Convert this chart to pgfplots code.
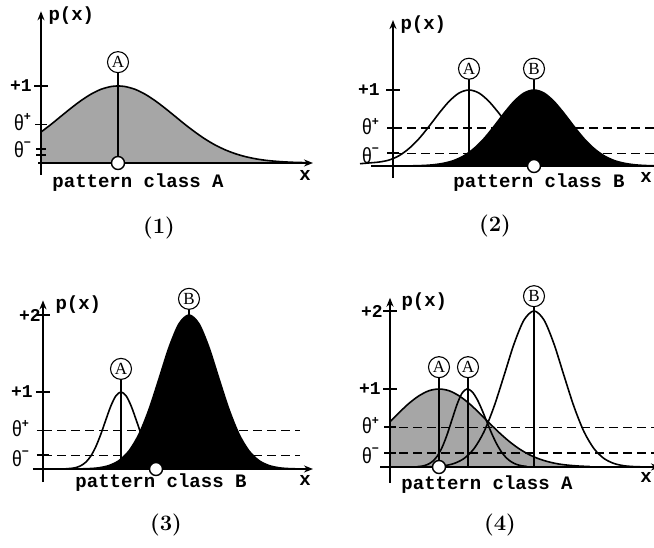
\documentclass[border=0pt]{standalone}
\usepackage{fontspec}
\usepackage{graphicx}
\usepackage{pgfplots}
\pgfplotsset{compat=1.18}
\usetikzlibrary{arrows.meta}
\newfontfamily\mono{Liberation Mono}
\newfontfamily\tms{Liberation Serif}
\newfontfamily\hel{Liberation Sans}
\definecolor{stip}{gray}{0.65}
\newcommand{\thp}{\scalebox{0.8}[1]{θ}\raisebox{0.42em}{\fontsize{12}{12}\selectfont\bfseries +}}
\newcommand{\thm}{\scalebox{0.8}[1]{θ}\raisebox{0.5em}{\fontsize{12}{12}\selectfont\bfseries −}}
\tikzset{
  crv/.style  = {line width=1.6pt, black, smooth},
  axl/.style  = {line width=1.6pt},
  arr/.style  = {line width=1.6pt, -{Stealth[length=9pt,width=7pt]}},
  dsh/.style  = {line width=1.1pt, dash pattern=on 9pt off 5pt},
  stem/.style = {line width=1.3pt},
  circ/.style = {circle, draw, line width=1.1pt, fill=white, inner sep=0pt,
                 minimum size=21pt, font=\tms\fontsize{17}{17}\selectfont},
  lbl/.style  = {font=\mono\bfseries\fontsize{19}{20}\selectfont},
  num/.style  = {font=\mono\bfseries\fontsize{18}{18}\selectfont, anchor=east, inner sep=0pt},
  th/.style   = {font=\hel\fontsize{22}{22}\selectfont, anchor=east, inner sep=0pt},
  capt/.style = {font=\bfseries\fontsize{22}{26}\selectfont},
}
\pgfplotsset{
  panel/.style = {hide axis, clip=false, anchor=origin, x=1pt,
                  xmin=-20, xmax=270, ymin=-0.2, ymax=2.2},
  cls/.style   = {only marks, mark=*, mark size=6.5pt,
                  mark options={fill=white, draw=black, line width=1.4pt}},
}
\begin{document}
\begin{tikzpicture}
\useasboundingbox (0,0) rectangle (654pt,548pt);

% ---------- (1) ----------
\begin{axis}[panel, at={(41pt,385pt)}, y=77pt]
\addplot[crv, fill=stip] coordinates {
  (0,0.402) (10,0.501) (20,0.607) (30,0.712) (40,0.810) (50,0.894) (60,0.957)
  (70,0.993) (77,1) (84,0.993) (94,0.957) (104,0.894) (114,0.810) (124,0.712)
  (134,0.607) (144,0.501) (154,0.402) (164,0.312) (174,0.235) (184,0.172)
  (194,0.122) (204,0.084) (214,0.056) (224,0.036) (234,0.023) (244,0.014)
  (254,0.008) (264,0.005)} \closedcycle;
\addplot[stem] coordinates {(77,0) (77,1.31)};
\draw[arr] (0,-0.15) -- (0,1.97);
\draw[arr] (-3,0) -- (272,0);
\draw[axl] (-7,1) -- (7,1);
\draw[axl] (-6,0.5) -- (6,0.5);
\draw[axl] (-5,0.18) -- (5,0.18);
\draw[axl] (-5,0.10) -- (5,0.10);
\node[circ] at (77,1.31) {A};
\addplot[cls] coordinates {(77,0)};
\node[num] at (-9,1) {+1};
\node[th] at (-10,0.53) {\thp};
\node[th] at (-10,0.17) {\thm};
\node[lbl, anchor=west] at (4,1.92) {p(x)};
\node[lbl] at (264,-0.16) {x};
\node[lbl] at (97,-0.26) {pattern class A};
\end{axis}

% ---------- (2) ----------
\begin{axis}[panel, at={(393pt,382pt)}, y=76pt]
\addplot[crv] coordinates {
  (-33,0.03) (-24,0.04) (-14,0.052) (-4,0.078) (6,0.135) (16,0.230) (26,0.360)
  (36,0.521) (46,0.693) (56,0.849) (66,0.960) (76,1) (86,0.960) (96,0.849)
  (106,0.693) (116,0.521) (126,0.360) (136,0.230) (146,0.135) (156,0.073)
  (166,0.037) (176,0.017) (186,0.007)};
\addplot[stem] coordinates {(76,0) (76,1.28)};
\draw[dsh] (0,0.5) -- (265,0.5);
\draw[dsh] (0,0.17) -- (265,0.17);
\addplot[crv, fill=black] coordinates {
  (21,0.003) (31,0.007) (41,0.017) (51,0.037) (61,0.073) (71,0.135) (81,0.230)
  (91,0.360) (101,0.521) (111,0.693) (121,0.849) (131,0.960) (141,1)
  (151,0.960) (161,0.849) (171,0.693) (181,0.521) (191,0.360) (201,0.230)
  (211,0.135) (221,0.073) (231,0.037) (241,0.017) (251,0.007) (261,0.003)} \closedcycle;
\addplot[stem] coordinates {(141,1) (141,1.28)};
\draw[arr] (0,-0.16) -- (0,1.92);
\draw[arr] (-22,0) -- (270,0);
\draw[axl] (-7,1) -- (7,1);
\draw[axl] (-6,0.5) -- (6,0.5);
\draw[axl] (-6,0.17) -- (6,0.17);
\node[circ] at (76,1.28) {A};
\node[circ] at (141,1.28) {B};
\addplot[cls] coordinates {(141,0)};
\node[num] at (-13,1) {+1};
\node[th] at (-14,0.52) {\thp};
\node[th] at (-14,0.13) {\thm};
\node[lbl, anchor=west] at (4,1.86) {p(x)};
\node[lbl] at (253,-0.15) {x};
\node[lbl] at (146,-0.22) {pattern class B};
\end{axis}

% ---------- (3) ----------
\begin{axis}[panel, at={(43pt,79pt)}, y=77pt]
\addplot[crv] coordinates {
  (23,0.003) (28,0.008) (33,0.019) (38,0.044) (43,0.091) (48,0.172) (53,0.295)
  (58,0.458) (63,0.644) (68,0.823) (73,0.952) (78,1) (83,0.952) (88,0.823)
  (93,0.644) (98,0.458) (103,0.295) (108,0.172) (113,0.091) (118,0.044)
  (123,0.019) (128,0.008) (133,0.003)};
\addplot[stem] coordinates {(78,0) (78,1.30)};
\draw[dsh] (0,0.5) -- (257,0.5);
\draw[dsh] (0,0.18) -- (257,0.18);
\addplot[crv, fill=black] coordinates {
  (36,0.0015) (46,0.005) (56,0.016) (66,0.045) (76,0.109) (86,0.235) (96,0.452)
  (106,0.773) (116,1.171) (126,1.577) (136,1.885) (146,2) (156,1.885)
  (166,1.577) (176,1.171) (186,0.773) (196,0.452) (206,0.235) (216,0.109)
  (226,0.045) (236,0.016) (246,0.005) (256,0.0015)} \closedcycle;
\addplot[stem] coordinates {(146,2) (146,2.21)};
\draw[arr] (0,-0.17) -- (0,2.19);
\draw[arr] (-10,0) -- (270,0);
\draw[axl] (-7,2) -- (7,2);
\draw[axl] (-7,1) -- (7,1);
\draw[axl] (-6,0.5) -- (6,0.5);
\draw[axl] (-6,0.18) -- (6,0.18);
\node[circ] at (78,1.30) {A};
\node[circ] at (146,2.21) {B};
\addplot[cls] coordinates {(113,0)};
\node[num] at (-2,2) {+2};
\node[num] at (-10,1) {+1};
\node[th] at (-14,0.52) {\thp};
\node[th] at (-14,0.14) {\thm};
\node[lbl, anchor=west] at (9,2.13) {p(x)};
\node[lbl] at (262,-0.15) {x};
\node[lbl] at (118,-0.18) {pattern class B};
\end{axis}

% ---------- (4) ----------
\begin{axis}[panel, at={(390pt,81pt)}, y=78pt]
\addplot[crv, fill=stip] coordinates {
  (0,0.581) (9,0.696) (19,0.816) (29,0.913) (39,0.978) (49,1) (59,0.978)
  (69,0.913) (79,0.816) (89,0.696) (99,0.568) (109,0.443) (119,0.330)
  (129,0.235) (139,0.160) (149,0.104) (159,0.065) (169,0.038) (179,0.022)
  (189,0.012) (199,0.006)} \closedcycle;
\draw[dsh] (-5,0.51) -- (270,0.51);
\draw[dsh] (-5,0.18) -- (270,0.18);
\addplot[crv] coordinates {
  (27,0.004) (32,0.011) (37,0.029) (42,0.066) (47,0.135) (52,0.249) (57,0.411)
  (62,0.607) (67,0.801) (72,0.946) (77,1) (82,0.966) (87,0.871) (92,0.732)
  (97,0.575) (102,0.421) (107,0.288) (112,0.183) (117,0.109) (122,0.061)
  (127,0.031) (132,0.015) (137,0.007)};
\addplot[crv] coordinates {
  (34,0.0015) (44,0.005) (54,0.016) (64,0.045) (74,0.109) (84,0.235) (94,0.452)
  (104,0.773) (114,1.171) (124,1.577) (134,1.885) (144,2) (154,1.885)
  (164,1.577) (174,1.171) (184,0.773) (194,0.452) (204,0.235) (214,0.109)
  (224,0.045) (234,0.016) (244,0.005) (254,0.0015)};
\addplot[stem] coordinates {(49,0) (49,1.28)};
\addplot[stem] coordinates {(78,0) (78,1.28)};
\addplot[stem] coordinates {(144,0) (144,2.19)};
\draw[arr] (0,-0.2) -- (0,2.17);
\draw[arr] (-10,0) -- (270,0);
\draw[axl] (-7,2) -- (7,2);
\draw[axl] (-7,1) -- (7,1);
\draw[axl] (-6,0.51) -- (6,0.51);
\draw[axl] (-6,0.18) -- (6,0.18);
\node[circ] at (49,1.28) {A};
\node[circ] at (78,1.28) {A};
\node[circ] at (144,2.19) {B};
\addplot[cls] coordinates {(49,0)};
\node[num] at (-7,2) {+2};
\node[num] at (-9,1) {+1};
\node[th] at (-11,0.53) {\thp};
\node[th] at (-11,0.14) {\thm};
\node[lbl, anchor=west] at (8,2.12) {p(x)};
\node[lbl] at (256,-0.14) {x};
\node[lbl] at (97,-0.23) {pattern class A};
\end{axis}

\node[capt] at (159pt,320pt) {(1)};
\node[capt] at (495pt,322pt) {(2)};
\node[capt] at (166pt,23pt) {(3)};
\node[capt] at (500pt,23pt) {(4)};
\end{tikzpicture}
\end{document}
